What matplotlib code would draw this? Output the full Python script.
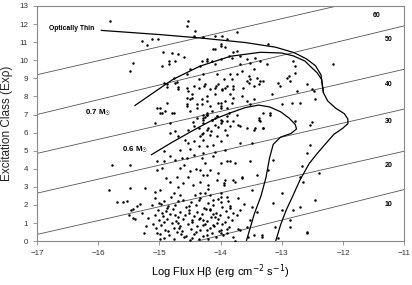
import numpy as np
import matplotlib
matplotlib.use("Agg")
import matplotlib.pyplot as plt

plt.rcParams['font.family'] = ['Liberation Sans', 'DejaVu Sans']
plt.rcParams['mathtext.fontset'] = 'dejavusans'

# observed nebulae: log H-beta flux vs excitation class
flux = [
    # upper part
    -15.81, -14.55, -14.53, -14.44, -14.42, -14.28, -15.29, -15.21, -15.12, -15.02,
    -14.09, -14.00, -13.98, -15.43, -15.48, -14.95, -14.80, -14.69, -14.60, -14.85,
    -14.84, -14.74, -14.96, -14.23, -14.31, -14.34, -14.14, -14.50, -14.55, -14.77,
    -14.72, -14.69, -14.93, -14.88, -14.28, -14.36, -14.06, -13.95, -14.55, -14.55,
    -14.50, -14.36, -14.27, -14.17, -14.08, -13.98, -14.47, -14.31, -14.23, -14.88,
    -15.04, -14.96, -14.77, -14.55, -14.50, -14.39, -14.28, -14.14, -14.00, -13.90,
    -13.93, -14.39, -14.14, -14.06, -13.98,
    # upper right
    -13.74, -13.22, -14.09, -13.90, -14.00, -14.12, -13.93, -13.79, -13.74, -13.68,
    -13.87, -13.82, -14.00, -14.23, -14.09, -13.57, -13.44, -13.35, -13.24, -13.52,
    -13.68, -13.46, -13.54, -13.84, -13.74, -13.65, -13.82, -13.57, -13.52, -13.41,
    -13.35, -13.30, -13.38, -12.81, -12.78, -12.92, -12.89, -12.86, -12.78, -12.59,
    -12.75, -13.06, -13.03, -13.16, -12.48, -12.46, -12.51, -12.16, -13.98, -13.93,
    -13.79, -13.63, -13.46, -13.79, -14.00, -14.17, -14.00, -14.23, -13.87, -13.90,
    -14.28, -14.09, -13.74, -13.52, -13.30, -13.19, -13.38, -13.00, -12.84, -12.70,
    -13.71, -13.44, -13.30,
    # lower right
    -13.19, -12.78, -12.54, -12.51, -13.38, -13.35, -13.46, -13.57, -13.68, -13.30,
    -13.68, -13.49, -13.90, -14.00, -13.93, -14.12, -12.54, -12.59, -13.14, -13.52,
    -13.84, -14.00, -13.22, -12.67, -12.40, -12.70, -12.65, -13.65, -13.93, -13.76,
    -13.95, -13.49, -13.00, -12.46, -13.14, -13.00, -12.81, -12.70, -13.49, -13.41,
    -13.68, -13.84, -13.52, -13.57, -13.68, -12.86, -12.86, -12.59, -13.11, -13.46,
    -13.33, -13.06, -14.00, -14.12, -14.17, -14.09, -14.28, -14.12, -14.00, -13.90,
    -13.79, -14.23, -14.25, -14.20, -14.28, -14.17, -14.25, -14.28, -14.23, -14.28,
    -14.20, -14.09, -14.28, -14.00, -13.79, -14.23,
    # middle left
    -14.88, -14.74, -14.69, -14.53, -14.44, -14.25, -14.09, -14.04, -13.90, -13.79,
    -13.54, -14.47, -14.39, -14.55, -14.31, -14.23, -14.09, -14.04, -13.84, -13.82,
    -13.65, -13.57, -13.46, -14.99, -14.91, -14.80, -14.99, -15.07, -14.83, -14.74,
    -14.83, -14.69, -14.58, -14.53, -14.44, -14.36, -14.28, -14.23, -14.14, -14.06,
    -14.00, -13.90, -13.93, -13.84, -14.23, -14.17, -14.34, -14.28, -14.44, -14.53,
    -14.06, -14.36, -14.66, -14.93, -14.83, -14.74, -14.93, -15.04, -14.63, -14.55,
    -14.44, -14.31, -14.12, -13.90, -13.76, -15.78, -15.48, -15.04, -14.96, -14.66,
    -14.50, -14.34, -14.72, -14.53, -14.23, -14.04, -14.83, -14.61, -14.34, -14.06,
    -13.95, -13.79, -13.65, -13.41, -15.83, -15.48, -15.23, -15.07, -14.99, -14.77,
    -14.66, -14.42, -14.34, -14.17, -14.00, -13.90,
    -14.90, -14.70, -14.45, -14.20, -14.60, -14.40, -14.10, -14.50, -14.30, -14.15,
    -14.45, -14.25, -14.05,
    # lower left
    -15.70, -15.59, -15.53, -15.36, -15.46, -15.44, -15.49, -15.44, -15.40,
    -15.28, -15.22, -15.32, -15.18, -15.25,
    -15.04, -14.99, -13.76, -13.55, -13.33, -12.59,
    -15.08, -14.93, -14.81, -14.62, -14.48, -14.33, -14.21, -14.05, -13.88, -13.71,
    -15.12, -14.98, -14.86, -14.74, -14.57, -14.41, -14.27, -14.13, -13.97, -13.62,
    -15.03, -14.90, -14.78, -14.66, -14.52, -14.38, -14.24, -14.08, -13.91, -13.80,
    -15.07, -14.95, -14.83, -14.69, -14.58, -14.44, -14.30, -14.16, -14.01, -13.74,
    -15.01, -14.87, -14.73, -14.61, -14.47, -14.35, -14.22, -14.05, -13.93, -13.82,
    -15.10, -14.97, -14.80, -14.67, -14.54, -14.39, -14.26, -14.11, -13.98, -13.86,
    -15.05, -14.91, -14.77, -14.63, -14.49, -14.33, -14.18, -14.03, -13.72,
    -14.99, -14.84, -14.71, -14.57, -14.43, -14.29, -14.14, -13.96,
    -14.93, -14.76, -14.60, -14.46, -14.36, -14.08,
    -15.00, -14.88, -14.70, -14.52, -14.36, -14.18, -13.99, -13.84,
    -14.96, -14.74, -14.52, -14.34, -14.12, -13.88,
    -14.92, -14.70, -14.46, -14.29, -14.06, -13.90,
    -14.86, -14.68, -14.41, -14.22, -14.00,
    -14.65, -14.50, -14.20,
]

exc = [
    12.18, 11.90, 12.18, 11.35, 11.60, 11.30, 11.07, 10.85, 11.20, 11.17,
    10.60, 10.80, 11.35, 9.87, 9.40, 10.43, 10.39, 10.33, 10.18, 9.96,
    9.78, 9.96, 9.68, 10.06, 9.96, 9.68, 9.96, 9.50, 9.22, 9.04,
    8.80, 8.54, 8.76, 8.54, 9.22, 8.94, 9.22, 8.94, 8.48, 7.93,
    7.83, 8.45, 8.55, 8.40, 8.60, 8.35, 8.11, 7.83, 8.02, 7.65,
    7.37, 7.09, 7.09, 7.46, 7.18, 7.37, 7.00, 7.18, 7.46, 7.37,
    7.74, 6.82, 6.72, 6.91, 6.63,
    11.54, 10.89, 11.35, 11.17, 10.89, 10.61, 10.71, 10.43, 10.52, 10.24,
    10.24, 10.15, 10.06, 9.96, 9.78, 10.06, 10.15, 9.96, 9.78, 9.87,
    9.78, 9.50, 9.13, 9.22, 9.22, 9.41, 8.94, 8.85, 8.94, 9.04,
    8.85, 8.85, 8.67, 9.96, 9.68, 9.04, 9.13, 8.85, 9.32, 8.67,
    8.30, 8.76, 8.57, 8.11, 8.30, 7.83, 8.39, 9.78, 8.39, 8.48,
    8.39, 8.48, 8.57, 7.93, 7.65, 7.46, 7.37, 7.00, 7.09, 6.91,
    6.82, 6.82, 7.00, 7.56, 7.09, 7.09, 6.72, 7.56, 7.65, 7.65,
    6.44, 6.26, 6.26,
    7.00, 6.63, 6.44, 6.57, 6.82, 6.63, 6.17, 6.26, 6.35, 6.26,
    5.43, 5.43, 5.89, 5.52, 5.06, 5.33, 5.33, 4.87, 4.50, 4.41,
    4.41, 4.32, 3.94, 4.13, 3.76, 3.57, 3.29, 3.57, 3.39, 3.29,
    3.11, 2.83, 2.65, 2.28, 2.09, 1.72, 1.72, 1.91, 1.91, 1.63,
    1.72, 1.82, 1.17, 0.79, 0.61, 0.79, 1.17, 0.52, 0.79, 0.33,
    0.24, 0.15, 2.46, 2.28, 1.72, 1.35, 1.17, 0.89, 0.61, 0.43,
    0.24, 0.33, 2.65, 3.11, 3.67, 3.94, 4.32, 4.87, 5.24, 5.98,
    6.26, 6.44, 6.72, 6.72, 6.63, 7.00,
    8.67, 8.76, 8.39, 8.30, 8.57, 8.67, 8.48, 8.67, 8.57, 8.57,
    8.76, 7.93, 7.56, 7.56, 7.56, 7.74, 8.11, 7.65, 8.11, 7.65,
    8.02, 7.74, 7.83, 7.37, 7.18, 7.09, 7.09, 6.54, 6.54, 6.07,
    5.98, 5.79, 5.61, 6.17, 6.35, 6.26, 6.54, 7.09, 6.72, 6.91,
    6.54, 6.63, 6.17, 6.35, 6.17, 5.89, 5.79, 5.61, 5.52, 5.43,
    5.79, 5.24, 5.06, 4.96, 4.68, 4.50, 4.41, 4.41, 4.59, 4.59,
    4.78, 4.59, 4.68, 4.41, 4.32, 4.22, 4.22, 3.94, 4.04, 4.04,
    3.85, 3.94, 3.57, 3.57, 3.67, 3.76, 3.29, 3.20, 3.29, 3.39,
    3.20, 3.39, 3.48, 3.67, 2.83, 2.93, 2.93, 2.74, 2.83, 2.65,
    2.56, 2.56, 2.65, 2.56, 2.65, 2.46,
    3.50, 3.00, 3.10, 2.90, 4.20, 4.00, 4.90, 5.10, 5.90, 6.10,
    6.60, 6.85, 6.30,
    2.18, 2.18, 2.24, 1.96, 1.72, 1.76, 1.44, 1.26, 1.21,
    1.55, 0.85, 2.05, 1.30, 0.45,
    0.43, 0.09, 0.00, 0.25, 0.35, 0.46,
    2.38, 2.21, 2.42, 2.30, 2.15, 2.36, 2.12, 2.33, 2.20, 2.41,
    1.98, 2.05, 1.92, 2.02, 1.88, 1.97, 1.85, 2.01, 1.90, 2.04,
    1.72, 1.65, 1.78, 1.60, 1.70, 1.62, 1.75, 1.58, 1.68, 1.55,
    1.45, 1.38, 1.50, 1.33, 1.47, 1.40, 1.52, 1.36, 1.46, 1.42,
    1.18, 1.25, 1.12, 1.22, 1.08, 1.20, 1.10, 1.24, 1.05, 1.15,
    0.95, 0.88, 0.98, 0.85, 0.93, 0.82, 0.96, 0.86, 0.92, 0.80,
    0.70, 0.62, 0.74, 0.58, 0.68, 0.60, 0.72, 0.55, 0.66,
    0.42, 0.35, 0.48, 0.30, 0.40, 0.28, 0.45, 0.33,
    0.18, 0.12, 0.22, 0.15, 0.10, 0.20,
    2.10, 1.85, 2.20, 1.95, 2.25, 1.80, 2.15, 1.95,
    1.55, 1.42, 1.58, 1.30, 1.52, 1.32,
    1.05, 0.98, 1.15, 0.90, 1.02, 0.65,
    0.55, 0.70, 0.52, 0.62, 0.45,
    0.40, 0.05, 0.12,
]

# model tracks
thin_x = [-15.95, -15.0, -14.3, -13.6, -13.1, -12.8, -12.6, -12.45, -12.36, -12.32,
          -12.25, -12.12, -11.98, -11.92, -11.92, -12.0, -12.15, -12.28, -12.42, -12.55,
          -12.7, -12.82, -12.93, -13.02, -13.1]
thin_y = [11.65, 11.42, 11.22, 10.98, 10.72, 10.42, 10.08, 9.7, 9.2, 8.2,
          7.75, 7.35, 7.05, 6.75, 6.5, 6.25, 5.9, 5.4, 4.85, 4.3,
          3.4, 2.5, 1.7, 0.9, 0.0]
m07_x = [-15.40, -15.1, -14.78, -14.34, -13.84, -13.35, -13.0, -12.81, -12.62, -12.54,
         -12.42, -12.35, -12.32]
m07_y = [7.5, 8.2, 8.94, 9.67, 10.22, 10.44, 10.4, 10.24, 9.95, 9.68,
         9.3, 8.94, 8.22]
m06_x = [-15.13, -14.8, -14.45, -14.12, -13.85, -13.6, -13.38, -13.2, -13.02, -12.88,
         -12.78, -12.76, -12.85, -13.02, -13.14, -13.2, -13.26, -13.34, -13.45, -13.58]
m06_y = [4.78, 5.45, 6.12, 6.72, 7.08, 7.38, 7.52, 7.42, 7.15, 6.8,
         6.45, 6.2, 5.95, 5.75, 5.35, 4.6, 3.5, 2.5, 1.5, 0.0]

# diagonal reference lines: value at log flux -17 and at -11
line_labels = ['10', '20', '30', '40', '50', '60']
line_left = [-2.21, 0.37, 2.65, 4.85, 7.0, 9.2]
line_right = [2.85, 4.97, 7.3, 9.5, 11.9, 13.85]
label_x = [-11.25, -11.25, -11.25, -11.25, -11.25, -11.45]
label_y = [2.0, 4.2, 6.6, 8.67, 11.17, 12.45]

fig = plt.figure(figsize=(4.12, 2.85), dpi=100)
ax = fig.add_axes([0.090, 0.154, 0.891, 0.825])

for y0, y1, lab, lx, ly in zip(line_left, line_right, line_labels, label_x, label_y):
    ax.plot([-17, -11], [y0, y1], color='#555555', lw=0.6, zorder=1)
    ax.text(lx, ly, lab, fontsize=5, fontweight='bold', ha='center', va='center')

ax.scatter(flux, exc, s=3.2, color='black', linewidths=0, zorder=3)

for cx, cy in [(thin_x, thin_y), (m07_x, m07_y), (m06_x, m06_y)]:
    ax.plot(cx, cy, color='black', lw=0.9, zorder=2)

ax.text(-16.8, 11.75, 'Optically Thin', fontsize=4.9, fontweight='bold', va='center')
ax.text(-16.22, 7.1, '0.7 M$_{☉}$', fontsize=5.7, fontweight='bold', va='center')
ax.text(-15.62, 5.05, '0.6 M$_{☉}$', fontsize=5.7, fontweight='bold', va='center')

ax.set_xlim(-17, -11)
ax.set_ylim(0, 13)
ax.set_xticks(range(-17, -10))
ax.set_yticks(range(0, 14))
ax.tick_params(labelsize=5.8, labelcolor='#333333', color='#888888', length=3, width=0.6)
for sp in ax.spines.values():
    sp.set_color('#888888')
    sp.set_linewidth(0.8)

ax.set_xlabel('Log Flux Hβ (erg cm$^{-2}$ s$^{-1}$)', fontsize=8, labelpad=4)
ax.set_ylabel('Excitation Class (Exρ)', fontsize=8.5, color='#222222', labelpad=4)

fig.savefig('out.png', dpi=100)
